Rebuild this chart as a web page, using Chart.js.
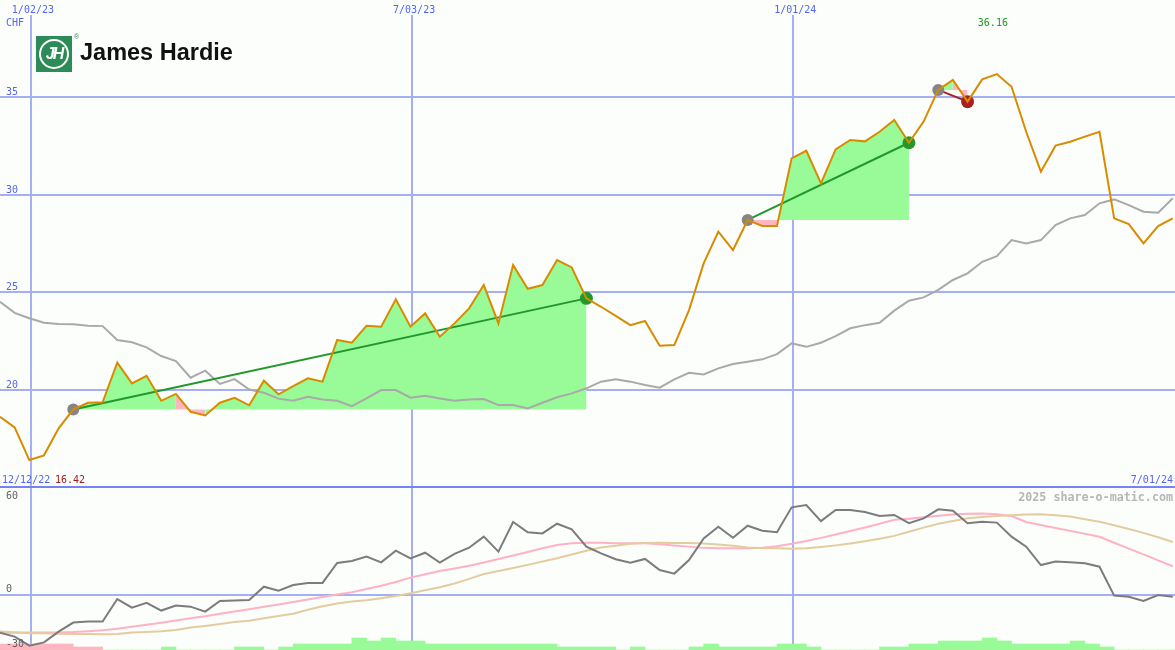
<!DOCTYPE html>
<html>
<head>
<meta charset="utf-8">
<script src="https://cdn.jsdelivr.net/npm/chart.js@4/dist/chart.umd.min.js"></script>
<style>
  body { margin: 0; background: #fbfefb; }
  #wrap { position: relative; width: 1175px; height: 650px; overflow: hidden; background: #fbfefb; }
  #top { position: absolute; left: 0; top: 0; }
  #bot { position: absolute; left: 0; top: 488px; }
  #logo .box { position: absolute; left: 36px; top: 36px; width: 36px; height: 36px; background: #2c8b56; }
  #logo .ring { position: absolute; left: 3px; top: 3px; width: 30px; height: 30px; box-sizing: border-box;
    border: 2.5px solid #fff; border-radius: 50%; color: #fff; font: italic bold 16px "Liberation Sans", Arial, sans-serif;
    line-height: 25px; text-align: center; letter-spacing: -2px; }
  #logo .reg { position: absolute; left: 74px; top: 33px; font: 7px "Liberation Sans", Arial, sans-serif; color: #4a8a66; }
  #logo .name { position: absolute; left: 80px; top: 41px; font: bold 23.5px "Liberation Sans", Arial, sans-serif;
    line-height: 23.5px; color: #111; white-space: nowrap; }
</style>
</head>
<body>
<div id="wrap">
  <canvas id="top" width="1175" height="488"></canvas>
  <canvas id="bot" width="1175" height="162"></canvas>
  <div id="logo">
    <div class="box"><div class="ring">JH</div></div>
    <span class="reg">®</span>
    <span class="name">James Hardie</span>
  </div>
</div>
<script>
// weekly points, 12/19/22 .. 7/01/24
const weeks = Array.from({ length: 81 }, (_, k) => k + 1);

// weekly close, CHF
const price = [
  18.63, 18.09, 16.42, 16.66, 18.04, 19.01, 19.35, 19.37, 21.40, 20.34,
  20.73, 19.45, 19.80, 18.89, 18.70, 19.35, 19.60, 19.22, 20.48, 19.78,
  20.20, 20.60, 20.43, 22.56, 22.42, 23.29, 23.24, 24.64, 23.24, 23.92,
  22.73, 23.41, 24.18, 25.37, 23.41, 26.39, 25.18, 25.37, 26.65, 26.27,
  24.69, 24.26, 23.79, 23.32, 23.53, 22.27, 22.30, 24.09, 26.48, 28.10,
  27.16, 28.70, 28.39, 28.39, 31.85, 32.24, 30.57, 32.31, 32.79, 32.72,
  33.21, 33.81, 32.65, 33.73, 35.35, 35.86, 34.75, 35.89, 36.16, 35.51,
  33.21, 31.17, 32.50, 32.70, 32.96, 33.21, 28.78, 28.49, 27.50, 28.39,
  28.78
];

// moving average (grey)
const avg = [
  24.52, 23.95, 23.67, 23.44, 23.38, 23.36, 23.29, 23.27, 22.56, 22.44,
  22.18, 21.74, 21.48, 20.63, 20.99, 20.31, 20.56, 20.03, 19.86, 19.56,
  19.45, 19.66, 19.52, 19.45, 19.18, 19.57, 20.00, 20.00, 19.61, 19.71,
  19.57, 19.45, 19.52, 19.54, 19.23, 19.23, 19.06, 19.35, 19.63, 19.83,
  20.09, 20.43, 20.55, 20.43, 20.26, 20.12, 20.55, 20.88, 20.80, 21.11,
  21.33, 21.45, 21.57, 21.84, 22.39, 22.21, 22.42, 22.76, 23.16, 23.32,
  23.44, 24.06, 24.57, 24.74, 25.12, 25.63, 25.97, 26.56, 26.85, 27.67,
  27.50, 27.67, 28.44, 28.78, 28.95, 29.55, 29.75, 29.46, 29.12, 29.07,
  29.81
];

// trades: week of entry / exit
const tradeEntry = [6, 52, 65];
const tradeExit = [41, 63, 67];

// lower panel: oscillator and its two averages
const osc = [
  -24.2, -26.7, -32.5, -30.4, -23.5, -17.7, -17.1, -17.1, -2.6, -8.1,
  -5.1, -10.0, -6.8, -7.5, -10.7, -3.8, -3.6, -3.2, 5.3, 2.8,
  6.4, 7.7, 7.7, 20.5, 21.8, 24.6, 20.9, 28.4, 23.5, 27.1,
  20.7, 26.3, 30.3, 37.4, 27.8, 46.8, 40.2, 39.5, 45.7, 42.1,
  31.0, 26.7, 22.9, 20.7, 23.1, 16.0, 13.7, 22.4, 36.3, 43.8,
  36.7, 44.4, 41.2, 40.2, 56.2, 57.7, 47.4, 54.5, 54.5, 53.2,
  50.6, 51.3, 46.0, 49.1, 54.9, 54.0, 46.0, 47.0, 46.4, 37.4,
  31.0, 19.2, 21.4, 20.9, 20.3, 18.1, -0.4, -1.1, -3.8, 0.0,
  -1.1
];
const oscFast = [
  -24.3, -24.2, -24.1, -24.1, -24.0, -23.8, -23.3, -22.6, -21.6, -20.4,
  -19.1, -17.8, -16.4, -15.0, -13.6, -12.1, -10.6, -9.1, -7.6, -6.1,
  -4.5, -2.9, -1.3, 0.3, 1.8, 3.8, 5.9, 8.3, 11.1, 13.3,
  15.3, 17.0, 18.8, 20.8, 23.1, 25.3, 27.6, 30.0, 32.1, 33.2,
  33.5, 33.5, 33.2, 33.1, 33.1, 32.5, 31.8, 31.0, 30.2, 29.9,
  29.9, 29.9, 30.3, 31.2, 32.8, 34.6, 36.6, 38.8, 41.0, 43.3,
  45.7, 48.2, 48.9, 49.8, 50.8, 51.6, 52.1, 52.2, 51.8, 50.6,
  46.8, 44.9, 43.0, 41.1, 39.2, 37.3, 33.5, 29.7, 26.0, 22.2,
  18.4
];
const oscSlow = [
  -23.5, -23.9, -24.6, -24.6, -24.8, -25.0, -25.0, -25.2, -25.0, -24.1,
  -23.7, -23.3, -22.4, -20.9, -19.9, -18.6, -17.3, -16.5, -15.0, -13.5,
  -12.0, -9.5, -7.2, -5.5, -4.2, -3.4, -2.1, -0.6, 1.1, 3.0,
  5.0, 7.4, 10.3, 13.4, 15.4, 17.3, 19.3, 21.4, 23.5, 26.0,
  28.4, 30.4, 31.6, 32.8, 33.4, 33.5, 33.4, 33.3, 33.0, 32.4,
  31.6, 30.4, 30.1, 30.0, 29.6, 30.0, 30.8, 31.8, 33.0, 34.5,
  36.1, 37.9, 40.5, 43.2, 45.7, 47.5, 49.2, 50.0, 50.7, 51.2,
  51.6, 51.7, 51.2, 50.3, 48.6, 47.0, 44.7, 42.3, 39.8, 37.0,
  34.0
];
// histogram steps along the bottom (negative = pink)
const hist = [
  -2, -2, -2, -2, -2, -1, -1, 0, 0, 0,
  0, 1, 0, 0, 0, 0, 1, 1, 0, 1,
  2, 2, 2, 2, 4, 3, 4, 3, 3, 2,
  2, 2, 2, 2, 2, 2, 2, 2, 1, 1,
  1, 1, 0, 1, 0, 0, 0, 1, 2, 1,
  1, 1, 1, 2, 2, 1, 0, 0, 0, 0,
  1, 1, 2, 2, 3, 3, 3, 4, 3, 2,
  2, 2, 2, 3, 2, 1, 0, 0, 0, 0,
  0
];

// axis text
const priceTicks = [20, 25, 30, 35];
const oscTicks = [60, 0, -30];
const gridWeeks = [3.11, 29.11, 55.11];
const gridDates = ['1/02/23', '7/03/23', '1/01/24'];
const startLabel = '12/12/22';
const endLabel = '7/01/24';

const gridColor = '#a4b0f2';
const blueText = '#5565f0';
const mono = '"DejaVu Sans Mono", monospace';
const green = '#98fb98';
const pink = '#ffb6c1';
const dateBand = 15; // vertical grid starts below the date row

// narrow mono text, close to the pixel font of the original
function txt(ctx, s, x, y, color, align, font, sx) {
  sx = sx || 0.91;
  ctx.save();
  ctx.font = font || ('11px ' + mono);
  ctx.fillStyle = color;
  ctx.textBaseline = 'alphabetic';
  const w = ctx.measureText(s).width * sx;
  const x0 = align === 'center' ? x - w / 2 : align === 'right' ? x - w : x;
  ctx.translate(x0, y);
  ctx.scale(sx, 1);
  ctx.fillText(s, 0, 0);
  ctx.restore();
}

// top panel -------------------------------------------------------------
const lo = Math.min(...price), hi = Math.max(...price);
const loIdx = price.indexOf(lo), hiIdx = price.indexOf(hi);

const topSets = [{
  data: price, borderColor: '#d98b00', borderWidth: 2, pointRadius: 0, tension: 0
}];
tradeEntry.forEach((e, t) => {
  const x1 = tradeExit[t];
  const p0 = price[e - 1], p1 = price[x1 - 1];
  const win = p1 >= p0;
  topSets.push({
    data: [{ x: e, y: p0 }, { x: x1, y: p1 }],
    borderColor: win ? '#22982a' : '#a82024', borderWidth: 2,
    pointRadius: [6, 6.5], pointBorderWidth: 0,
    pointBackgroundColor: ['#858585', win ? '#22982a' : '#a82024']
  });
});
topSets.push({
  data: avg, borderColor: '#a9a9a9', borderWidth: 2, pointRadius: 0, tension: 0
});
tradeEntry.forEach((e, t) => {
  const x1 = tradeExit[t];
  const base = price[e - 1];
  topSets.push({
    data: weeks.map((w, k) => (w >= e && w <= x1 ? price[k] : null)),
    borderWidth: 0, borderColor: 'rgba(0,0,0,0)', backgroundColor: green,
    pointRadius: 0, fill: { value: base },
    segment: { backgroundColor: c => (c.p1.parsed.y < base ? pink : green) }
  });
});

const topDecor = {
  id: 'topDecor',
  beforeDatasetsDraw(chart) {
    const { ctx, chartArea: a, scales: { x, y } } = chart;
    ctx.save();
    ctx.fillStyle = gridColor;
    priceTicks.forEach(v => {
      const py = Math.round(y.getPixelForValue(v));
      ctx.fillRect(a.left, py - 1, a.right - a.left, 2);
    });
    gridWeeks.forEach(w => {
      const px = Math.round(x.getPixelForValue(w));
      ctx.fillRect(px - 1, a.top + dateBand, 2, a.bottom - a.top - dateBand);
    });
    ctx.fillStyle = '#7584f0';
    ctx.fillRect(a.left, a.bottom - 2, a.right - a.left, 2);
    ctx.restore();
  },
  afterDatasetsDraw(chart) {
    const { ctx, chartArea: a, scales: { x, y } } = chart;
    gridWeeks.forEach((w, k) => txt(ctx, gridDates[k], x.getPixelForValue(w) + 2, 13, blueText, 'center'));
    txt(ctx, 'CHF', 6, 26, blueText);
    priceTicks.forEach(v => txt(ctx, String(v), 6, y.getPixelForValue(v) - 2, blueText));
    txt(ctx, hi.toFixed(2), x.getPixelForValue(weeks[hiIdx]) - 4, 25.5, '#1f9a1f', 'center');
    txt(ctx, startLabel, 2, a.bottom - 5.5, blueText);
    txt(ctx, lo.toFixed(2), 55, a.bottom - 5.5, '#a01c1c');
    txt(ctx, endLabel, 1173, a.bottom - 5.5, blueText, 'right');
  }
};

new Chart(document.getElementById('top'), {
  type: 'line',
  data: { labels: weeks, datasets: topSets },
  options: {
    responsive: false, animation: false, devicePixelRatio: 1, events: [],
    layout: { padding: 0, autoPadding: false },
    plugins: { legend: { display: false }, tooltip: { enabled: false } },
    scales: {
      x: { type: 'linear', min: 1, max: 81.15, display: false },
      y: { type: 'linear', min: 14.99, max: 39.95, display: false }
    }
  },
  plugins: [topDecor]
});

// bottom panel ----------------------------------------------------------
const botDecor = {
  id: 'botDecor',
  beforeDatasetsDraw(chart) {
    const { ctx, chartArea: a, scales: { x, y } } = chart;
    ctx.save();
    ctx.fillStyle = gridColor;
    const py = Math.round(y.getPixelForValue(0));
    ctx.fillRect(a.left, py - 1, a.right - a.left, 2);
    gridWeeks.forEach(w => {
      const px = Math.round(x.getPixelForValue(w));
      ctx.fillRect(px - 1, a.top, 2, a.bottom - a.top);
    });
    ctx.restore();
  },
  afterDatasetsDraw(chart) {
    const { ctx, chartArea: a, scales: { y } } = chart;
    txt(ctx, String(oscTicks[0]), 6, y.getPixelForValue(oscTicks[0]) - 2, '#5e5e5e');
    txt(ctx, String(oscTicks[1]), 6, y.getPixelForValue(oscTicks[1]) - 2.5, '#5e5e5e');
    txt(ctx, String(oscTicks[2]), 6, a.bottom - 3.5, '#5e5e5e');
    txt(ctx, '2025 share-o-matic.com', 1173, 12.5, '#b6b6b6', 'right', 'bold 11.7px ' + mono, 1);
  }
};

new Chart(document.getElementById('bot'), {
  type: 'line',
  data: {
    labels: weeks,
    datasets: [
      { data: osc, borderColor: '#7c7c7c', borderWidth: 2, pointRadius: 0 },
      { data: oscSlow, borderColor: '#e4cc9f', borderWidth: 2, pointRadius: 0 },
      { data: oscFast, borderColor: '#ffb2c4', borderWidth: 2, pointRadius: 0 },
      {
        type: 'bar', yAxisID: 'yh',
        data: hist.map((v, k) => ({ x: weeks[k] + 0.5, y: Math.abs(v) })),
        backgroundColor: hist.map(v => (v < 0 ? pink : green)),
        borderWidth: 0, barPercentage: 1, categoryPercentage: 1
      }
    ]
  },
  options: {
    responsive: false, animation: false, devicePixelRatio: 1, events: [],
    layout: { padding: 0, autoPadding: false },
    plugins: { legend: { display: false }, tooltip: { enabled: false } },
    scales: {
      x: { type: 'linear', min: 1, max: 81.15, display: false, offset: false },
      y: { type: 'linear', min: -35.3, max: 68.6, display: false },
      yh: { type: 'linear', min: 0, max: 54, display: false }
    }
  },
  plugins: [botDecor]
});
</script>
</body>
</html>
